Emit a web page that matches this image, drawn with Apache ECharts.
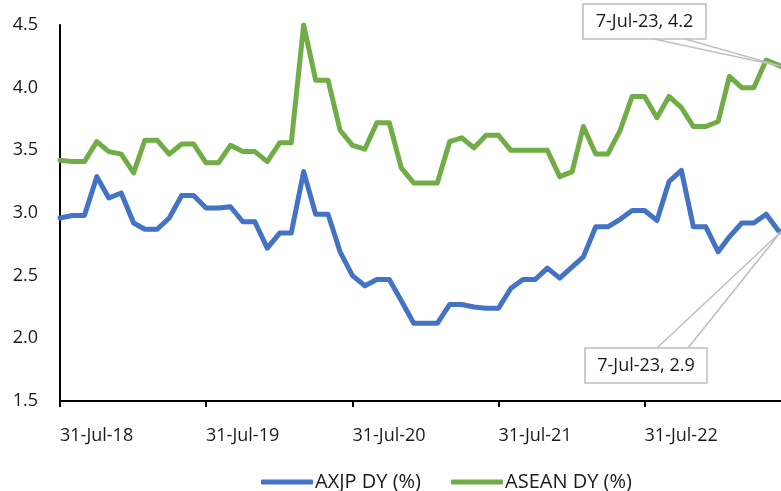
<!DOCTYPE html>
<html><head><meta charset="utf-8">
<script src="https://cdn.jsdelivr.net/npm/echarts@6/dist/echarts.min.js"></script>
<style>html,body{margin:0;padding:0;background:#fff}#c{width:781px;height:491px}</style>
</head><body><div id="c"></div>
<script>
// Month-end observation dates Jul-2018 .. Jun-2023, plus the latest point 7-Jul-2023
const dates = [];
for (let i = 0; i < 60; i++) dates.push(Date.UTC(2018, 7 + i, 0));
dates.push(Date.UTC(2023, 6, 7));

const axjp = [2.96,2.98,2.98,3.29,3.12,3.16,2.92,2.87,2.87,2.96,3.14,3.14,
              3.04,3.04,3.05,2.93,2.93,2.72,2.84,2.84,3.33,2.99,2.99,2.69,
              2.50,2.42,2.47,2.47,2.30,2.12,2.12,2.12,2.27,2.27,2.25,2.24,
              2.24,2.40,2.47,2.47,2.56,2.48,2.57,2.65,2.89,2.89,2.95,3.02,
              3.02,2.94,3.25,3.34,2.89,2.89,2.69,2.81,2.92,2.92,2.99,2.86,
              2.85];
const asean = [3.42,3.41,3.41,3.57,3.49,3.47,3.32,3.58,3.58,3.47,3.55,3.55,
               3.40,3.40,3.54,3.49,3.49,3.41,3.56,3.56,4.50,4.06,4.06,3.66,
               3.54,3.51,3.72,3.72,3.36,3.24,3.24,3.24,3.57,3.60,3.52,3.62,
               3.62,3.50,3.50,3.50,3.50,3.29,3.33,3.69,3.47,3.47,3.66,3.93,
               3.93,3.76,3.93,3.84,3.69,3.69,3.73,4.09,4.00,4.00,4.22,4.18,
               4.17];
const seriesNames = ['AXJP DY (%)', 'ASEAN DY (%)'];
const tickDates = [Date.UTC(2018,6,31), Date.UTC(2019,6,31), Date.UTC(2020,6,31), Date.UTC(2021,6,31), Date.UTC(2022,6,31)];
const yTicks = [1.5, 2.0, 2.5, 3.0, 3.5, 4.0, 4.5];
const callouts = ['7-Jul-23, 2.9', '7-Jul-23, 4.2'];

const MON = ['Jan','Feb','Mar','Apr','May','Jun','Jul','Aug','Sep','Oct','Nov','Dec'];
function fmtDate(v){ const d=new Date(v); return d.getUTCDate()+'-'+MON[d.getUTCMonth()]+'-'+String(d.getUTCFullYear()).slice(2); }

const FONT = 'Open Sans';
const chart = echarts.init(document.getElementById('c'));
const option = {
  animation: false,
  textStyle: {fontFamily: FONT},
  grid: {left: 60, right: -5, top: 25, bottom: 90, containLabel: false},
  xAxis: {
    type: 'value',
    min: tickDates[0], max: dates[dates.length-1],
    axisLine: {show: true, lineStyle: {color: '#000', width: 2}},
    axisTick: {show: true, customValues: tickDates, length: 6, lineStyle: {color: '#000', width: 2}},
    axisLabel: {customValues: tickDates, formatter: fmtDate, align: 'left', margin: 26, fontSize: 18, color: '#1a1a1a', fontFamily: FONT},
    splitLine: {show: false}
  },
  yAxis: {
    type: 'value', min: yTicks[0], max: yTicks[yTicks.length-1], interval: 0.5,
    axisLine: {show: true, lineStyle: {color: '#000', width: 2}},
    axisTick: {show: false},
    axisLabel: {formatter: v => v.toFixed(1), fontSize: 18, color: '#1a1a1a', margin: 22, fontFamily: FONT},
    splitLine: {show: false}
  },
  legend: {
    left: 256, top: 467, itemWidth: 52, itemHeight: 5, itemGap: 30, icon: 'roundRect',
    textStyle: {fontSize: 20, color: '#1a1a1a', fontFamily: FONT, padding: [0, 0, 0, -3]},
    data: seriesNames
  },
  series: [
    {name: seriesNames[0], type: 'line', symbol: 'none', color: '#4472C4',
     lineStyle: {width: 5, color: '#4472C4', join: 'round', cap: 'round'},
     data: dates.map((d,i)=>[d, axjp[i]])},
    {name: seriesNames[1], type: 'line', symbol: 'none', color: '#70AD47',
     lineStyle: {width: 5, color: '#70AD47', join: 'round', cap: 'round'},
     data: dates.map((d,i)=>[d, asean[i]])}
  ]
};
chart.setOption(option);

// Callouts anchored to the last data point of each series
const last = dates.length - 1;
const pB = chart.convertToPixel({gridIndex: 0}, [dates[last], axjp[last]]);
const pG = chart.convertToPixel({gridIndex: 0}, [dates[last], asean[last]]);
function callout(box, text, wedge, p){
  return [
    {type: 'polyline', z: 100, shape: {points: [wedge[0], p, wedge[1]]}, style: {stroke: '#bfbfbf', lineWidth: 1.5, fill: null}},
    {type: 'rect', z: 101, shape: {x: box[0], y: box[1], width: box[2], height: box[3]}, style: {fill: '#fff', stroke: '#bfbfbf', lineWidth: 1.5}},
    {type: 'text', z: 102, x: box[0] + box[2]/2, y: box[1] + box[3]/2,
     style: {text: text, fontSize: 18, fontFamily: FONT, fill: '#1a1a1a', align: 'center', verticalAlign: 'middle'}}
  ];
}
chart.setOption({graphic: [
  ...callout([583, 4, 123, 35], callouts[1], [[654, 39], [685, 39]], pG),
  ...callout([585, 348, 122, 35], callouts[0], [[657, 348], [688, 348]], pB)
]});
</script></body></html>
